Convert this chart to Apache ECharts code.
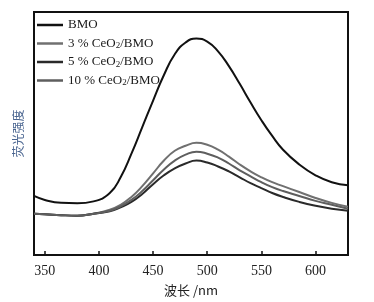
<!DOCTYPE html>
<html>
<head>
<meta charset="utf-8">
<script src="https://cdn.jsdelivr.net/npm/echarts@6/dist/echarts.min.js"></script>
<style>
  html, body { margin: 0; padding: 0; background: #fff; }
  #chart { width: 374px; height: 302px; }
</style>
</head>
<body>
<div id="chart"></div>
<script>
// 波长 (nm)
var wavelength = [340, 350, 365, 380, 395, 410, 420, 430, 440, 450, 460, 470, 480, 490,
  500, 510, 520, 530, 540, 550, 560, 570, 585, 600, 615, 630];

// 荧光强度 (a.u.)
var bmo = [60, 56, 53, 52.5, 54.5, 63, 79, 103, 130, 157, 183, 204, 216, 220,
  217, 207, 192, 174, 155, 137, 121, 107, 92, 81, 74, 71];
var ceo3 = [42, 41.5, 40.5, 40, 42, 46, 51, 59, 70, 83, 96, 106, 111, 114,
  112, 107, 100, 92, 85, 79, 74, 70, 64, 58, 53, 49];
var ceo5 = [42, 41.5, 40.5, 40, 42, 44.5, 48.5, 54, 62, 72, 81, 88, 93, 96,
  94, 90, 85, 79, 73, 68, 63, 59, 54, 50, 47, 45];
var ceo10 = [42, 41.5, 40.5, 40, 42, 45, 49.5, 56, 65, 76, 87, 96, 102, 105,
  103, 99, 93, 86, 80, 74, 69, 65, 60, 55, 51, 47];

var xTicks = [350, 400, 450, 500, 550, 600];
var names = ["BMO", "3 % CeO{sub|2}/BMO", "5 % CeO{sub|2}/BMO", "10 % CeO{sub|2}/BMO"];

function pairs(ys) {
  return wavelength.map(function (x, i) { return [x, ys[i]]; });
}

var chart = echarts.init(document.getElementById("chart"));

function line(name, ys, color) {
  return {
    name: name,
    type: "line",
    data: pairs(ys),
    smooth: 0.5,
    symbol: "none",
    lineStyle: { color: color, width: 2 },
    itemStyle: { color: color },
  };
}

var option = {
  animation: false,
  grid: {
    left: 34, right: 26, top: 12, bottom: 43,
    show: true, borderColor: "#111", borderWidth: 2,
  },
  legend: {
    orient: "vertical",
    left: 32,
    top: 13,
    icon: "rect",
    itemWidth: 26,
    itemHeight: 2.5,
    itemGap: 4.5,
    data: names,
    textStyle: {
      fontFamily: "Liberation Serif",
      fontSize: 13,
      lineHeight: 14,
      color: "#1a1a1a",
      rich: {
        sub: { fontSize: 9, verticalAlign: "bottom", padding: [6, 0, 0, 0], fontFamily: "Liberation Serif", color: "#1a1a1a" },
      },
    },
  },
  xAxis: {
    type: "value",
    min: 340,
    max: 630,
    name: "波长 /nm",
    nameLocation: "middle",
    nameGap: 29,
    nameTextStyle: { fontFamily: "Noto Sans CJK SC", fontSize: 13, color: "#222" },
    axisLine: { lineStyle: { color: "#111", width: 2 } },
    axisTick: { inside: true, length: 4, customValues: xTicks, lineStyle: { color: "#111", width: 1.5 } },
    axisLabel: { customValues: xTicks, fontFamily: "Liberation Serif", fontSize: 14, color: "#222", margin: 9 },
    splitLine: { show: false },
  },
  yAxis: {
    type: "value",
    min: 0,
    max: 247,
    name: "荧光强度",
    nameLocation: "middle",
    nameGap: 10,
    nameTextStyle: { fontFamily: "Noto Sans CJK SC", fontSize: 12, color: "#4a6590" },
    axisLine: { show: true, lineStyle: { color: "#111", width: 2 } },
    axisTick: { show: false },
    axisLabel: { show: false },
    splitLine: { show: false },
  },
  series: [
    line(names[0], bmo, "#111111"),
    line(names[1], ceo3, "#707070"),
    line(names[2], ceo5, "#2a2a2a"),
    line(names[3], ceo10, "#5e5e5e"),
  ],
};

chart.setOption(option);
</script>
</body>
</html>
